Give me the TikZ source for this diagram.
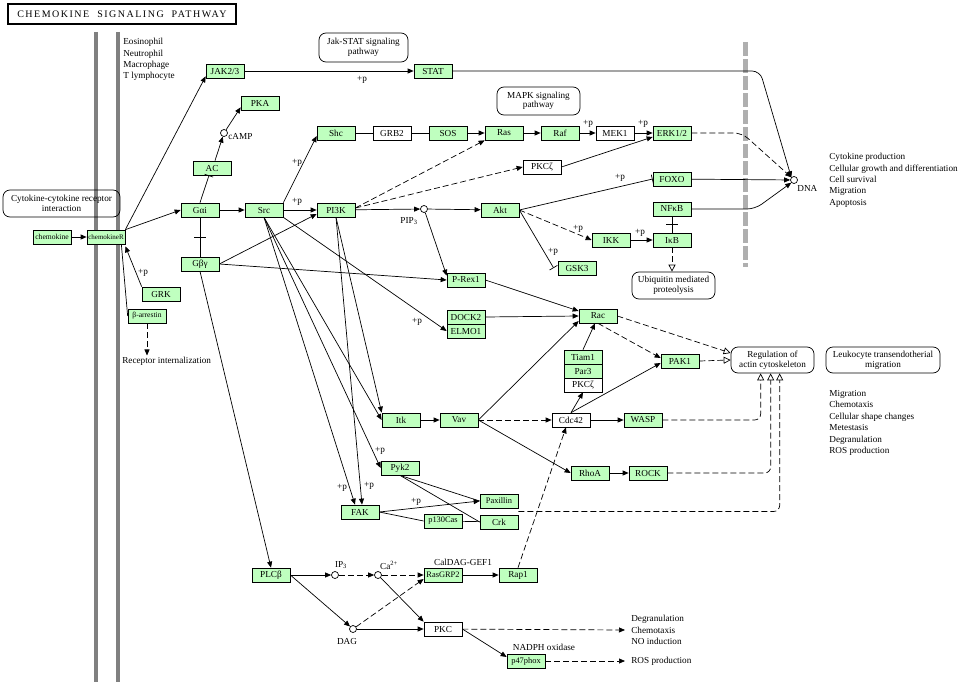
\documentclass[tikz,border=0pt]{standalone}
\usepackage{fontspec}
\setmainfont{Liberation Serif}
\newfontfamily\titlefont[LetterSpace=15]{Liberation Serif}
\usepackage{tikz}
\usetikzlibrary{arrows.meta,calc}
\definecolor{genegreen}{RGB}{191,255,191}
\definecolor{membranegray}{RGB}{128,128,128}
\definecolor{nucleargray}{RGB}{175,175,175}

\begin{document}
\begin{tikzpicture}[x=1pt,y=-1pt,line width=0.7pt,
  font=\fontsize{9.2}{11.4}\selectfont,
  gene/.style={draw,fill=genegreen,minimum width=38pt,minimum height=14pt,inner sep=0pt},
  other/.style={draw,fill=white,minimum width=38pt,minimum height=14pt,inner sep=0pt},
  tight/.style={font=\fontsize{7.6}{8}\selectfont},
  cpd/.style={circle,draw,fill=white,inner sep=0pt,minimum size=7pt},
  mapbox/.style={draw,rounded corners=7pt,align=center,inner sep=1pt,font=\fontsize{9.2}{9.6}\selectfont},
  txt/.style={align=left,inner sep=0pt},
  lbl/.style={inner sep=0pt},
  act/.style={-{Triangle[length=6pt,width=5pt]}},
  inh/.style={-{Bar[width=9pt]}},
  ind/.style={dash pattern=on 6pt off 3pt},
  opn/.style={-{Triangle[open,length=7pt,width=7pt,fill=white]}}]
  \useasboundingbox (0,0) rectangle (964,685);
  \draw[membranegray,line width=4pt] (96,32) -- (96,682);
  \draw[membranegray,line width=4pt] (118,32) -- (118,682);
  \draw[nucleargray,line width=5pt,dash pattern=on 14pt off 3pt] (745,42) -- (745,267);
  \node[draw,line width=1.5pt,minimum width=228pt,minimum height=20pt,inner sep=0pt,
    font=\titlefont\fontsize{10}{12}\selectfont] (title) at (122,14) {CHEMOKINE\ \ SIGNALING\ \ PATHWAY};
  \node[txt,anchor=north west] (cells) at (123,38) {Eosinophil\\Neutrophil\\Macrophage\\T lymphocyte};
  \node[mapbox,minimum width=117pt,minimum height=27pt] (ccr) at (61.5,203.5) {Cytokine-cytokine receptor\\interaction};
  \node[mapbox,minimum width=89pt,minimum height=29pt] (jakstat) at (363.5,47.5) {Jak-STAT signaling\\pathway};
  \node[mapbox,minimum width=83pt,minimum height=28pt] (mapk) at (538.5,101) {MAPK signaling\\pathway};
  \node[mapbox,minimum width=83pt,minimum height=27pt] (ubiq) at (673.5,285.5) {Ubiquitin mediated\\proteolysis};
  \node[mapbox,minimum width=83pt,minimum height=26pt] (reg) at (772.5,360) {Regulation of\\actin cytoskeleton};
  \node[mapbox,minimum width=114pt,minimum height=26pt] (leuko) at (883,360) {Leukocyte transendotherial\\migration};
  % receptor
  \node[gene,tight] (chemokine) at (52,237) {chemokine};
  \node[gene,font=\fontsize{7}{8}\selectfont] (chemr) at (106,237) {chemokineR};
  \node[gene] (grk) at (161,294) {GRK};
  \node[gene,tight] (barr) at (147,316) {β-arrestin};
  \node[txt,inner sep=1pt,anchor=west] (recint) at (121,361) {Receptor internalization};
  % G proteins and upper cascade
  \node[gene] (jak) at (225,71) {JAK2/3};
  \node[gene] (stat) at (433,71) {STAT};
  \node[gene] (pka) at (260,103) {PKA};
  \node[cpd] (camp) at (224,133) {};
  \node[lbl,anchor=west] (camplbl) at (228,137) {cAMP};
  \node[gene] (ac) at (212,168) {AC};
  \node[gene] (gai) at (200,210) {Gαi};
  \node[gene] (gby) at (200,264) {Gβγ};
  \node[gene] (src) at (264,210) {Src};
  \node[gene] (pi3k) at (336,210) {PI3K};
  \node[gene] (shc) at (336,133) {Shc};
  \node[other] (grb2) at (392,133) {GRB2};
  \node[gene] (sos) at (448,133) {SOS};
  \node[gene] (ras) at (504,133) {Ras};
  \node[gene] (raf) at (560,133) {Raf};
  \node[other] (mek) at (615,133) {MEK1};
  \node[gene] (erk) at (672,133) {ERK1/2};
  \node[other] (pkcz) at (542,167) {PKCζ};
  \node[gene] (foxo) at (672,179) {FOXO};
  \node[gene] (nfkb) at (672,209) {NFκB};
  \node[gene] (akt) at (500,210) {Akt};
  \node[cpd] (pip3) at (424,209) {};
  \node[lbl] (pip3lbl) at (409,221) {PIP\textsubscript{3}};
  \node[gene] (ikk) at (611,240) {IKK};
  \node[gene] (ikb) at (672,240) {IκB};
  \node[gene] (gsk3) at (577,268) {GSK3};
  \node[cpd] (dna) at (794,180) {};
  \node[lbl,anchor=west] (dnalbl) at (797,188) {DNA};
  \node[txt,anchor=north west] (nucout) at (829,153) {Cytokine production\\Cellular growth and differentiation\\Cell survival\\Migration\\Apoptosis};
  % Rho GTPases
  \node[gene] (prex) at (466,280) {P-Rex1};
  \node[gene] (dock) at (466,317) {DOCK2};
  \node[gene] (elmo) at (466,331) {ELMO1};
  \node[gene] (rac) at (598,316) {Rac};
  \node[gene] (tiam) at (583,357) {Tiam1};
  \node[gene] (par3) at (583,371) {Par3};
  \node[other] (pkcz2) at (583,385) {PKCζ};
  \node[gene] (pak1) at (680,361) {PAK1};
  \node[gene] (itk) at (401,420) {Itk};
  \node[gene] (vav) at (459,420) {Vav};
  \node[other] (cdc42) at (571,420) {Cdc42};
  \node[gene] (wasp) at (643,420) {WASP};
  \node[gene] (rhoa) at (590,473) {RhoA};
  \node[gene] (rock) at (648,473) {ROCK};
  \node[txt,anchor=north west] (cellout) at (829,390) {Migration\\Chemotaxis\\Cellular shape changes\\Metestasis\\Degranulation\\ROS production};
  % adhesion
  \node[gene] (pyk2) at (400,468) {Pyk2};
  \node[gene] (fak) at (360,512) {FAK};
  \node[gene,font=\fontsize{8.4}{9}\selectfont] (p130) at (443,521) {p130Cas};
  \node[gene,font=\fontsize{8.4}{9}\selectfont] (pax) at (499,501) {Paxillin};
  \node[gene] (crk) at (499,522) {Crk};
  % PLC branch
  \node[gene] (plcb) at (271,575) {PLCβ};
  \node[cpd] (ip3) at (335,575) {};
  \node[lbl] (ip3lbl) at (341,565) {IP\textsubscript{3}};
  \node[cpd] (ca) at (378,575) {};
  \node[lbl] (calbl) at (389,565) {Ca\textsuperscript{2+}};
  \node[gene,font=\fontsize{8.4}{9}\selectfont] (rasgrp) at (443,575) {RasGRP2};
  \node[lbl] (caldag) at (463,562) {CalDAG-GEF1};
  \node[gene] (rap1) at (518,575) {Rap1};
  \node[cpd] (dag) at (353,629) {};
  \node[lbl] (daglbl) at (347,641) {DAG};
  \node[other] (pkc) at (443,629) {PKC};
  \node[gene,font=\fontsize{8.4}{9}\selectfont] (p47) at (526,661) {p47phox};
  \node[lbl] (nadph) at (544,647) {NADPH oxidase};
  \node[txt,anchor=west] (degran) at (631,630) {Degranulation\\Chemotaxis\\NO induction};
  \node[txt,anchor=west] (ros) at (631,661) {ROS production};
  \foreach \pos [count=\i] in {(143,273),(362,80),(297,163),(297,202),(588,124),(643,124),
    (620,178),(578,229),(553,252),(640,233),(417,322),(380,451),(342,488),(369,486),(416,502)}
    \node[lbl] (plus\i) at \pos {+p};
  % connections
  \draw[act] (chemokine) -- (chemr);
  \draw[act] (chemr.north east) -- ([yshift=2pt]jak.south west);
  \draw[act] (chemr.north east) -- (gai.west);
  \draw[act] (grk.north west) -- ([yshift=-2pt]chemr.south east);
  \draw ([xshift=-4pt]chemr.south east) -- (barr.west);
  \draw[act,ind] (barr.south) -- (barr.south |- recint.north);
  \draw[act] (jak) -- (stat);
  \draw[inh] (gai.north) -- ([xshift=-3pt]ac.south);
  \draw[act] ([xshift=3pt]ac.north) -- (camp);
  \draw[act] (camp) -- ([yshift=3pt]pka.south west);
  \draw[act] (gai) -- (src);
  \draw (gai) -- coordinate (gmid) (gby);
  \draw ([xshift=-6pt]gmid) -- ([xshift=6pt]gmid);
  \draw[act] (src.north east) -- ([yshift=-3pt]shc.west);
  \draw[act] (src) -- (pi3k);
  \draw (shc) -- (grb2) -- (sos);
  \draw[act] (sos) -- (ras);
  \draw[act] (ras) -- (raf);
  \draw[act] (raf) -- (mek);
  \draw[act] (mek) -- (erk);
  \draw[act,ind] ([yshift=2pt]pi3k.east) -- (ras.south west);
  \draw[act,ind] ([yshift=2pt]pi3k.east) -- (pkcz.west);
  \draw[act] (pkcz.east) -- ([yshift=-4pt]erk.west);
  \draw[act] (pi3k) -- (pip3);
  \draw[act] (pip3) -- (akt);
  \draw[act] (pip3) -- ([yshift=-3pt]prex.north west);
  \draw[inh] (akt.east) -- (foxo.west);
  \draw[act,ind] (akt.east) -- (ikk.west);
  \draw[inh] (akt.east) -- ([xshift=-4pt]gsk3.west);
  \draw[act] (ikk) -- (ikb);
  \draw (nfkb) -- coordinate (nmid) (ikb);
  \draw ([xshift=-6pt]nmid) -- ([xshift=6pt]nmid);
  \draw[opn,ind] (ikb.south) -- (ikb.south |- ubiq.north);
  \draw[act,rounded corners=8pt] (stat.east) -- (760,71) -- (dna.north west);
  \draw[act,ind,rounded corners=8pt] (erk.east) -- (742,133) -- (dna.north west);
  \draw[act] (foxo) -- (dna);
  \draw[act,rounded corners=8pt] (nfkb.east) -- (755,209) -- (dna.south west);
  \draw[act] (gby.east) -- ([yshift=-4pt]pi3k.west);
  \draw[act] (gby.east) -- (prex.west);
  \draw[act] (gby.south) -- (plcb.north);
  \draw[act] (src.south) -- (itk.west);
  \draw[act] (pi3k.south) -- (itk.north west);
  \draw[act] (src.south) -- (pyk2.west);
  \draw[act] (src.south) -- ([xshift=-5pt]fak.north);
  \draw[act] (pi3k.south) -- ([xshift=2pt]fak.north);
  \draw[act] (src.south east) -- (elmo.west);
  \draw[act] (itk) -- (vav);
  \draw[act] (vav.east) -- ([yshift=-5pt]rac.west);
  \draw[act,ind] (vav) -- (cdc42);
  \draw[act] (vav.east) -- (rhoa.west);
  \draw[act] (prex.east) -- ([yshift=5pt]rac.west);
  \draw[act] (dock.east) -- (rac.west);
  \draw[act] (tiam.north) -- ([xshift=-3pt]rac.south);
  \draw[act] (cdc42.north) -- (pkcz2.south);
  \draw[act] (cdc42.north) -- ([yshift=-2pt]pak1.west);
  \draw[act,ind] (rac.south) -- ([yshift=3pt]pak1.west);
  \draw[opn,ind] (rac.east) -- ([yshift=7pt]reg.west);
  \draw[opn,ind] (pak1.east) -- (reg.west);
  \draw[act] (cdc42) -- (wasp);
  \draw[act] (rhoa) -- (rock);
  \draw[opn,ind,rounded corners=6pt] (wasp.east) -| ([xshift=30pt]reg.south west);
  \draw[opn,ind,rounded corners=6pt] (rock.east) -| ([xshift=40pt]reg.south west);
  \coordinate (paxcrk) at ($(pax.south east)!0.5!(crk.north east)$);
  \draw[opn,ind,rounded corners=6pt] (paxcrk) -| ([xshift=49pt]reg.south west);
  \draw (pyk2.south) -- (pax.west);
  \draw (pyk2.south) -- (crk.west);
  \draw[act] (fak.east) -- (pax.west);
  \draw (fak.east) -- (p130.west);
  \draw (p130) -- (crk);
  \draw[act] (plcb) -- (ip3);
  \draw[act,ind] (ip3) -- (ca);
  \draw[act,ind] (ca) -- (rasgrp);
  \draw[act] (rasgrp) -- (rap1);
  \draw[act,ind] (rap1.north) -- ([xshift=-5pt]cdc42.south);
  \draw[act] (plcb.east) -- (dag);
  \draw[act,ind] (dag) -- ([yshift=-4pt]rasgrp.west);
  \draw[act] (dag) -- (pkc);
  \draw[act] (ca) -- (pkc.north west);
  \draw[act,ind] (pkc) -- ([xshift=-6pt]degran.west);
  \draw[act] (pkc.east) -- ([yshift=4pt]p47.west);
  \draw[act,ind] (p47) -- ([xshift=-6pt]ros.west);
\end{tikzpicture}
\end{document}
